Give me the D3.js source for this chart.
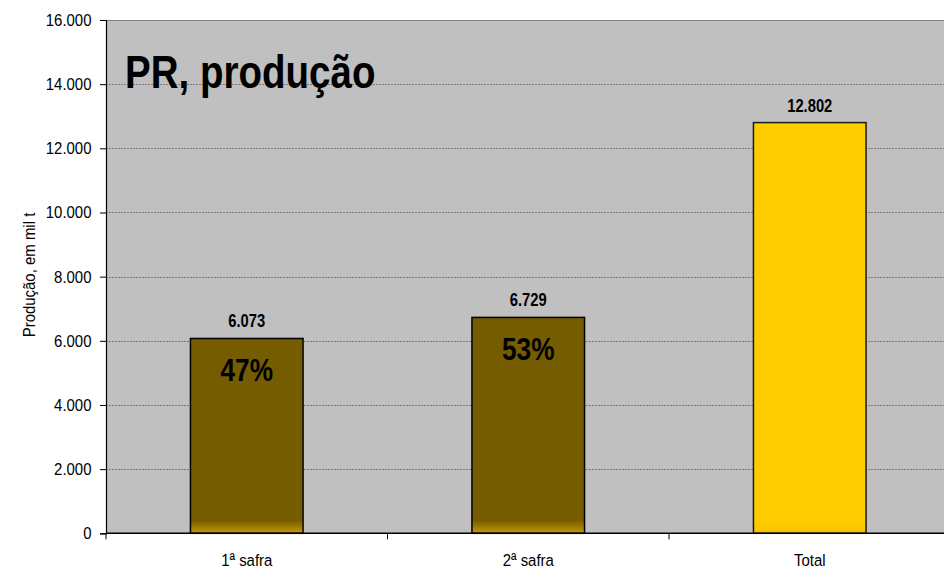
<!DOCTYPE html>
<html><head><meta charset="utf-8">
<script src="https://cdn.jsdelivr.net/npm/d3@7"></script>
<style>
html,body{margin:0;padding:0;background:#fff;}
text{font-family:"Liberation Sans",Arial,sans-serif;fill:#000;}
</style></head>
<body>
<svg id="chart" width="944" height="571"></svg>
<script>
const categories = ["1ª safra", "2ª safra", "Total"];
const values = [6073, 6729, 12802];
const valueLabels = ["6.073", "6.729", "12.802"];
const shareLabels = ["47%", "53%", ""];
const yTicks = [0, 2000, 4000, 6000, 8000, 10000, 12000, 14000, 16000];
const title = "PR, produção";
const yTitle = "Produção, em mil t";

const SXB = 0.82; // narrow bold emulation
const SXR = 0.88; // narrow regular emulation
const svg = d3.select("#chart");
const m = {left:106, top:20, right:950.5, bottom:533.3};
const x = d3.scaleBand().domain(categories).range([m.left, m.right]).paddingInner(0).paddingOuter(0);
const y = d3.scaleLinear().domain([0,16000]).range([m.bottom, m.top]);
const fmt = d => d3.format(",")(d).replace(/,/g,".");

const defs = svg.append("defs");
const g1 = defs.append("linearGradient").attr("id","brownGrad").attr("gradientUnits","userSpaceOnUse")
  .attr("x1",0).attr("x2",0).attr("y1",y(0)-13).attr("y2",y(0));
g1.append("stop").attr("offset","0%").attr("stop-color","#765c00");
g1.append("stop").attr("offset","100%").attr("stop-color","#c49a00");
const g2 = defs.append("linearGradient").attr("id","goldGrad").attr("gradientUnits","userSpaceOnUse")
  .attr("x1",0).attr("x2",0).attr("y1",y(0)-10).attr("y2",y(0));
g2.append("stop").attr("offset","0%").attr("stop-color","#ffcc00");
g2.append("stop").attr("offset","100%").attr("stop-color","#f2bf00");

// plot background
svg.append("rect").attr("x",m.left).attr("y",m.top).attr("width",m.right-m.left).attr("height",m.bottom-m.top).attr("fill","#c0c0c0");

// gridlines
svg.append("g").selectAll("line").data(yTicks.filter(d=>d>0)).join("line")
  .attr("x1",m.left).attr("x2",m.right).attr("y1",d=>Math.round(y(d))+0.5).attr("y2",d=>Math.round(y(d))+0.5)
  .attr("stroke",d=>d===16000?"#808080":"#7a7a7a").attr("stroke-width",1)
  .attr("stroke-dasharray",d=>d===16000?null:"2,1");

function narrowText(sel, px, py, sx){
  sel.attr("transform",(d,i)=>`translate(${px(d,i)},${py(d,i)}) scale(${sx},1)`);
  return sel;
}

// title
svg.append("text").attr("transform",`translate(125,88) scale(${SXB},1)`).attr("font-size",47).attr("font-weight","bold").text(title);

// bars
const bw = x.bandwidth()*0.4;
svg.append("g").selectAll("rect").data(values).join("rect")
  .attr("x",(d,i)=>x(categories[i])+x.bandwidth()/2-bw/2)
  .attr("y",d=>y(d))
  .attr("width",bw)
  .attr("height",d=>y(0)-y(d))
  .attr("fill",(d,i)=>i<2?"url(#brownGrad)":"url(#goldGrad)")
  .attr("stroke",(d,i)=>i<2?"#000":"#1a1a1a").attr("stroke-width",1.5);

// value labels
svg.append("g").selectAll("text").data(values).join("text")
  .call(narrowText,(d,i)=>x(categories[i])+x.bandwidth()/2,d=>y(d)-11,SXB)
  .attr("text-anchor","middle").attr("font-size",18).attr("font-weight","bold")
  .text((d,i)=>valueLabels[i]);

// share labels
svg.append("g").selectAll("text").data(values).join("text")
  .call(narrowText,(d,i)=>x(categories[i])+x.bandwidth()/2,d=>y(d)+43,SXB)
  .attr("text-anchor","middle").attr("font-size",32).attr("font-weight","bold")
  .text((d,i)=>shareLabels[i]);

// y axis
const ya = svg.append("g").attr("transform",`translate(${m.left},0)`)
  .call(d3.axisLeft(y).tickValues(yTicks).tickFormat(fmt).tickSize(6).tickPadding(9));
ya.select(".domain").attr("stroke","#000").attr("stroke-width",1.2);
ya.selectAll(".tick line").attr("stroke","#000");
ya.selectAll(".tick text").attr("font-size",17).attr("font-family",null).attr("fill","#000")
  .attr("x",0).attr("transform",`translate(-14.5,0) scale(${SXR},1)`);

// x axis
const xa = svg.append("g").attr("transform",`translate(0,${m.bottom})`);
xa.append("line").attr("x1",m.left).attr("x2",m.right).attr("y1",0).attr("y2",0).attr("stroke","#000").attr("stroke-width",1.5);
const bounds = categories.map(c=>x(c));
xa.selectAll(".bt").data(bounds).join("line").attr("class","bt")
  .attr("x1",d=>d).attr("x2",d=>d).attr("y1",0).attr("y2",6).attr("stroke","#000");
xa.selectAll(".cl").data(categories).join("text").attr("class","cl")
  .call(narrowText,d=>x(d)+x.bandwidth()/2,()=>33,SXR)
  .attr("text-anchor","middle").attr("font-size",17).text(d=>d);

// y title
svg.append("text").attr("transform",`translate(35,275) rotate(-90) scale(${SXR},1)`)
  .attr("text-anchor","middle").attr("font-size",17).text(yTitle);
</script>
</body></html>
